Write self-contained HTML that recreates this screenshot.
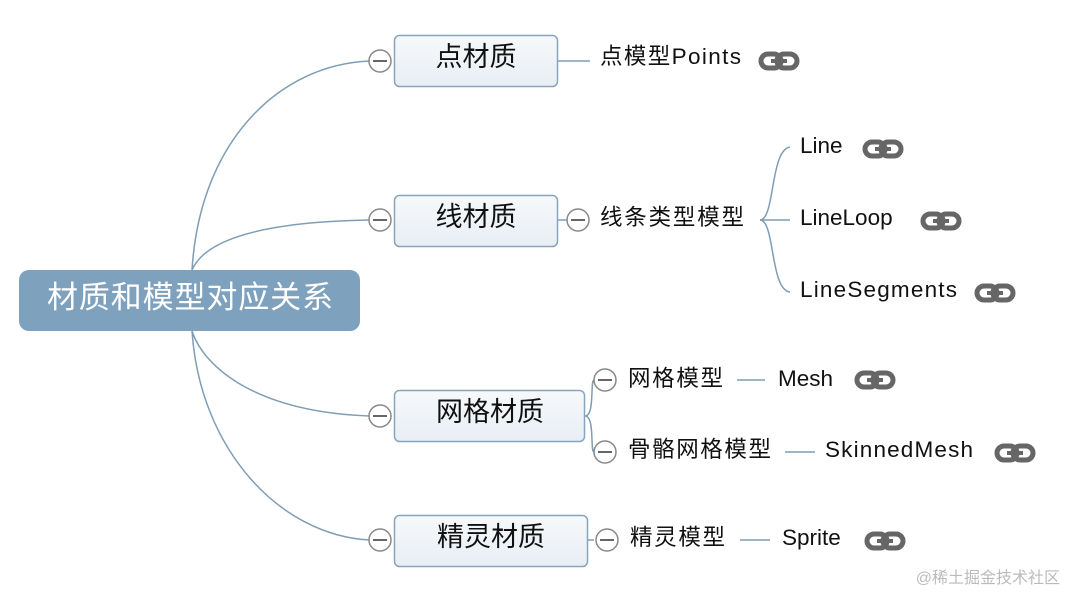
<!DOCTYPE html>
<html><head><meta charset="utf-8"><style>
body{margin:0;background:#fff;width:1078px;height:606px;overflow:hidden}
svg text{font-family:"Liberation Sans","Noto Sans CJK SC",sans-serif;fill:#111}
</style></head><body>
<svg width="1078" height="606" viewBox="0 0 1078 606">
<defs>
<linearGradient id="g" x1="0" y1="0" x2="0" y2="1"><stop offset="0" stop-color="#f7f9fb"/><stop offset="1" stop-color="#e8eef4"/></linearGradient>
<g id="lk"><rect x="1" y="3" width="20" height="14" rx="7" fill="none" stroke="#666" stroke-width="5"/><rect x="17" y="3" width="20" height="14" rx="7" fill="none" stroke="#666" stroke-width="5"/><line x1="11" y1="10" x2="27" y2="10" stroke="#666" stroke-width="4"/></g>
<g id="mn"><circle cx="0" cy="0" r="11" fill="#fff" stroke="#888" stroke-width="1.5"/><line x1="-7" y1="0" x2="7" y2="0" stroke="#666" stroke-width="2"/></g>
</defs>
<g fill="none" stroke="#7f9db5" stroke-width="1.5">
<path d="M192 270 C200 140 280 65 369 61"/>
<path d="M192 270 C205 240 260 222 369 220"/>
<path d="M192 331 C205 370 260 412 369 416"/>
<path d="M192 331 C200 450 280 535 369 540"/>
<line x1="558" y1="61" x2="590" y2="61"/>
<line x1="558" y1="220" x2="567" y2="220"/>
<path d="M760 220 C775 220 770 150 790 147"/>
<line x1="760" y1="220" x2="790" y2="220"/>
<path d="M760 220 C775 220 770 290 790 292"/>
<path d="M585 416 C595 416 590 380 594 380"/>
<path d="M585 416 C595 416 590 452 594 452"/>
<line x1="737" y1="380" x2="765" y2="380"/>
<line x1="785" y1="452" x2="815" y2="452"/>
<line x1="588" y1="540" x2="594" y2="540"/>
<line x1="740" y1="540" x2="770" y2="540"/>
</g>
<rect x="19" y="270" width="341" height="61" rx="10" fill="#7ea1bd"/>
<text x="190" y="308" font-size="31" text-anchor="middle" textLength="286" style="fill:#fff">材质和模型对应关系</text>
<rect x="394.5" y="35.5" width="163" height="51" rx="5" fill="url(#g)" stroke="#86a6c0" stroke-width="1.5"/>
<text x="476" y="66" font-size="27" text-anchor="middle">点材质</text>
<rect x="394.5" y="195.5" width="163" height="51" rx="5" fill="url(#g)" stroke="#86a6c0" stroke-width="1.5"/>
<text x="476" y="226" font-size="27" text-anchor="middle">线材质</text>
<rect x="394.5" y="390.5" width="190" height="51" rx="5" fill="url(#g)" stroke="#86a6c0" stroke-width="1.5"/>
<text x="490" y="421" font-size="27" text-anchor="middle">网格材质</text>
<rect x="394.5" y="515.5" width="193" height="51" rx="5" fill="url(#g)" stroke="#86a6c0" stroke-width="1.5"/>
<text x="491" y="546" font-size="27" text-anchor="middle">精灵材质</text>
<use href="#mn" x="380" y="61"/><use href="#mn" x="380" y="220"/><use href="#mn" x="380" y="416"/><use href="#mn" x="380" y="540"/>
<use href="#mn" x="578" y="220"/><use href="#mn" x="605" y="380"/><use href="#mn" x="605" y="452"/><use href="#mn" x="607" y="540"/>
<g font-size="22.5">
<text x="600" y="64" textLength="141">点模型Points</text>
<text x="600" y="225" textLength="144">线条类型模型</text>
<text x="800" y="153">Line</text>
<text x="800" y="225">LineLoop</text>
<text x="800" y="297" textLength="157">LineSegments</text>
<text x="628" y="386" textLength="95">网格模型</text>
<text x="778" y="386">Mesh</text>
<text x="628" y="457" textLength="143">骨骼网格模型</text>
<text x="825" y="457" textLength="148">SkinnedMesh</text>
<text x="630" y="545" textLength="95">精灵模型</text>
<text x="782" y="545">Sprite</text>
</g>
<use href="#lk" x="760" y="51"/><use href="#lk" x="864" y="139"/><use href="#lk" x="922" y="211"/><use href="#lk" x="976" y="283"/>
<use href="#lk" x="856" y="370"/><use href="#lk" x="996" y="443"/><use href="#lk" x="866" y="531"/>
<text x="1060" y="583" font-size="16" text-anchor="end" style="fill:#bbb">@稀土掘金技术社区</text>
</svg>
</body></html>
